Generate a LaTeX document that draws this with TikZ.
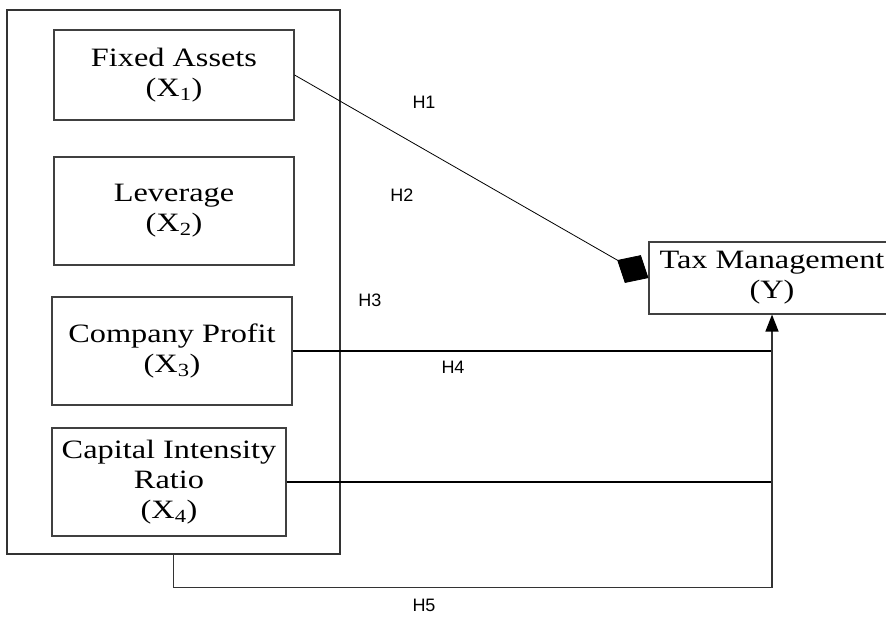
\documentclass[tikz,border=0pt]{standalone}
\usepackage{fontspec}
\setmainfont{Liberation Serif}[FakeStretch=1.22]
\newfontfamily\hfont{Liberation Sans}
\usetikzlibrary{arrows.meta}
\begin{document}
\begin{tikzpicture}[x=1pt,y=-1pt]
                \tikzset{every node/.style={font=\fontsize{26.5}{30}\selectfont},
                  varbox/.style={draw=black!75,line width=1.1pt,align=center,inner sep=0pt},
                  hlabel/.style={font=\hfont\fontsize{18}{20}\selectfont}}
                \clip (0,0) rectangle (886,617);
                \node[draw=black!80,line width=1.1pt,minimum width=333,minimum height=544] (frame) at (173.5,282) {};
                \node[varbox,minimum width=240,minimum height=90] (fa) at (174,75) {Fixed Assets\\(X\textsubscript{1})};
                \node[varbox,minimum width=240,minimum height=108] (lev) at (174,211) {Leverage\\(X\textsubscript{2})};
                \node[varbox,minimum width=240,minimum height=108] (cp) at (172,351) {Company Profit\\(X\textsubscript{3})};
                \node[varbox,minimum width=234,minimum height=108] (cir) at (169,482) {Capital Intensity\\Ratio\\(X\textsubscript{4})};
                \node[varbox,minimum width=246,minimum height=72] (tax) at (772,278) {Tax Management\\(Y)};
                \node[hlabel] (h1) at (424,102) {H1};
                \node[hlabel] (h2) at (402,195) {H2};
                \node[hlabel] (h3) at (370,300) {H3};
                \node[hlabel] (h4) at (453,367) {H4};
                \node[hlabel] (h5) at (424,605) {H5};
                \draw[line width=0.8pt,-{Diamond[length=36pt,width=32pt]}] (fa.east) -- (tax.west);
                \draw[line width=1.8pt] (cp.east) -- (tax.south |- cp.east);
                \draw[line width=1.8pt] (cir.east) -- (tax.south |- cir.east);
                \draw[black!80,line width=1.3pt,-{Triangle[length=17pt,width=13pt,color=black]}] (frame.south) -- ++(0,33) -| (tax.south);
\end{tikzpicture}
\end{document}
